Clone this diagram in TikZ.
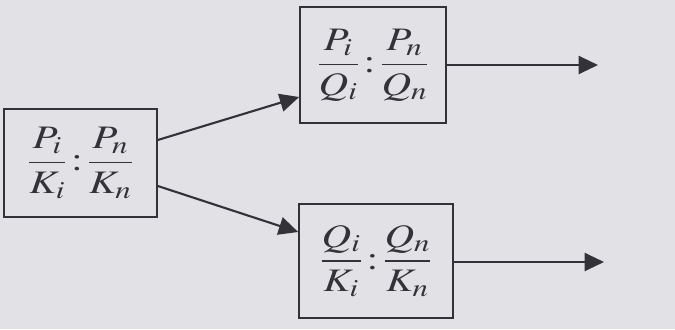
\documentclass[tikz,border=0pt]{standalone}
\usepackage{mathptmx}
\usepackage{tikz}
\usetikzlibrary{arrows.meta,positioning,calc}
\DeclareMathSizes{28}{28}{21}{15}
\definecolor{paper}{RGB}{226,226,230}
\definecolor{ink}{RGB}{50,50,56}
\newcommand{\ratiotext}[4]{\scalebox{1.25}[1]{$\displaystyle
  \frac{#1}{#2}\mkern2mu{:}\mkern2mu\frac{#3}{#4}$}}
\tikzset{
  >={Triangle[length=5.8mm,width=5.4mm]},
  ratio/.style={draw=ink,line width=1.4pt,fill=none,inner sep=0pt,
    font=\fontsize{28}{34}\selectfont,text=ink},
  flow/.style={->,line width=1.8pt,draw=ink},
}

\begin{document}
\begin{tikzpicture}[x=0.03cm,y=-0.03cm]
  \fill[paper] (0,0) rectangle (675,329);
  \useasboundingbox (0,0) rectangle (675,329);
  % three ratio boxes
  \node[ratio,minimum width=4.59cm,minimum height=3.24cm] (ratioPK) at (80.5,163)
    {\ratiotext{P_i}{K_i}{P_n}{K_n}};
  \node[ratio,minimum width=4.38cm,minimum height=3.48cm] (ratioPQ) at (373,65)
    {\ratiotext{P_i}{Q_i}{P_n}{Q_n}};
  \node[ratio,minimum width=4.62cm,minimum height=3.42cm] (ratioQK) at (376,261)
    {\ratiotext{Q_i}{K_i}{Q_n}{K_n}};
  % outputs
  \coordinate (outPQ) at (598,65);
  \coordinate (outQK) at (604,262);
  \draw[flow] ([yshift=0.69cm]ratioPK.east) -- ([yshift=-0.96cm]ratioPQ.west);
  \draw[flow] ([yshift=-0.69cm]ratioPK.east) -- ([yshift=0.87cm]ratioQK.west);
  \draw[flow] (ratioPQ.east) -- (outPQ);
  \draw[flow] (ratioQK.east |- outQK) -- (outQK);
\end{tikzpicture}
\end{document}
